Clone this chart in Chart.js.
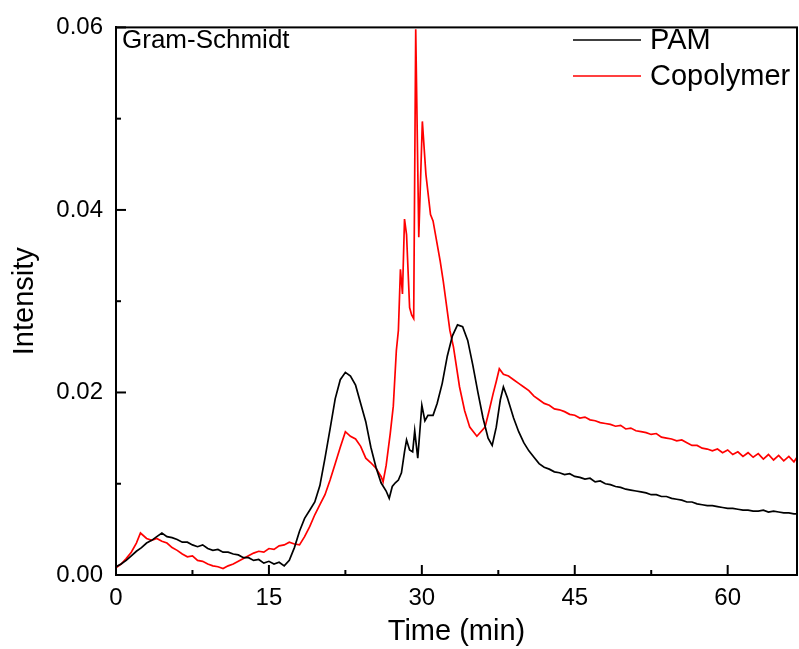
<!DOCTYPE html>
<html lang="en">
<head>
<meta charset="UTF-8" />
<title>Gram-Schmidt</title>
<script src="https://cdn.jsdelivr.net/npm/chart.js"></script>
<style>
  html, body { margin: 0; padding: 0; background: #fff; }
  #wrap { width: 799px; height: 649px; }
</style>
</head>
<body>
<div id="wrap"><canvas id="myChart" width="799" height="649"></canvas></div>
<script>
const pamTime = [
  0, 0.5, 1, 1.5, 2, 2.5, 3, 3.5, 4, 4.5, 5, 5.5, 6, 6.5, 7, 7.5, 8, 8.5, 9, 9.5,
  10, 10.5, 11, 11.5, 12, 12.5, 13, 13.5, 14, 14.5, 15, 15.5, 16, 16.5, 17, 17.5, 18, 18.5, 19, 19.5,
  20, 20.5, 21, 21.5, 22, 22.5, 23, 23.5, 24, 24.5, 25, 25.5, 26, 26.5, 26.8, 27.1, 27.4, 27.7,
  28, 28.3, 28.5, 28.8, 29.1, 29.3, 29.6, 30, 30.3, 30.6, 31.1, 31.5, 32, 32.5, 33, 33.5, 34, 34.5,
  35, 35.5, 36, 36.5, 36.9, 37.3, 37.7, 38, 38.4, 39, 39.5, 40, 40.5, 41, 41.5, 42, 42.5,
  43, 43.5, 44, 44.5, 45, 45.5, 46, 46.5, 47, 47.5, 48, 48.5, 49, 49.5, 50, 50.5, 51, 51.5, 52, 52.5,
  53, 53.5, 54, 54.5, 55, 55.5, 56, 56.5, 57, 57.5, 58, 58.5, 59, 59.5, 60, 60.5, 61, 61.5, 62, 62.5,
  63, 63.5, 64, 64.5, 65, 65.5, 66, 66.5, 66.8
]
const pamIntensity = [
  0.0009, 0.0012, 0.0016, 0.0021, 0.0026, 0.0030, 0.0035, 0.0038, 0.0042, 0.0046, 0.0042, 0.0041, 0.0039, 0.0036, 0.0036, 0.0033, 0.0031, 0.0033, 0.0029, 0.0027,
  0.0028, 0.0025, 0.0025, 0.0023, 0.0022, 0.0019, 0.0019, 0.0016, 0.0017, 0.0013, 0.0015, 0.0012, 0.0014, 0.0010, 0.0016, 0.0030, 0.0048, 0.0062, 0.0071, 0.0080,
  0.0098, 0.0128, 0.0160, 0.0193, 0.0214, 0.0222, 0.0218, 0.0208, 0.0188, 0.0168, 0.0140, 0.0118, 0.0101, 0.0092, 0.0084, 0.0097, 0.0101, 0.0104,
  0.0112, 0.0135, 0.0148, 0.0137, 0.0135, 0.0158, 0.0128, 0.0186, 0.0169, 0.0175, 0.0175, 0.0188, 0.0210, 0.0240, 0.0262, 0.0274, 0.0272, 0.0257,
  0.0230, 0.0200, 0.0172, 0.0150, 0.0142, 0.0162, 0.0192, 0.0206, 0.0194, 0.0172, 0.0157, 0.0145, 0.0136, 0.0129, 0.0122, 0.0118, 0.0116,
  0.0113, 0.0112, 0.0110, 0.0111, 0.0108, 0.0107, 0.0105, 0.0106, 0.0102, 0.0103, 0.0100, 0.0099, 0.0097, 0.0096, 0.0094, 0.0093, 0.0092, 0.0091, 0.0090, 0.0088,
  0.0088, 0.0086, 0.0086, 0.0084, 0.0083, 0.0082, 0.0080, 0.0080, 0.0078, 0.0077, 0.0076, 0.0076, 0.0075, 0.0074, 0.0073, 0.0073, 0.0072, 0.0071, 0.0071, 0.0070,
  0.0070, 0.0071, 0.0069, 0.0070, 0.0069, 0.0068, 0.0068, 0.0067, 0.0067
]

const copTime = [
  0, 0.5, 1, 1.5, 2, 2.4, 3, 3.5, 4, 4.5, 5, 5.5, 6, 6.5, 7, 7.5, 8, 8.5, 9, 9.5,
  10, 10.5, 11, 11.5, 12, 12.5, 13, 13.5, 14, 14.5, 15, 15.5, 16, 16.5, 17, 17.5, 18, 18.5, 19, 19.5,
  20, 20.5, 21, 21.5, 22, 22.5, 23, 23.5, 24, 24.5, 25, 25.5, 26, 26.2, 26.5, 26.9, 27.2, 27.5, 27.7, 27.9,
  28.1, 28.3, 28.5, 28.8, 29, 29.2, 29.4, 29.7, 30.05, 30.4, 30.85, 31.1, 31.8, 32.1, 32.75, 33.1, 33.7, 34.2, 34.7, 35.4,
  36.2, 36.6, 37, 37.3, 37.6, 38, 38.5, 39, 39.5, 40, 40.5, 41, 41.5, 42, 42.5,
  43, 43.5, 44, 44.5, 45, 45.5, 46, 46.5, 47, 47.5, 48, 48.5, 49, 49.5, 50, 50.5, 51, 51.5, 52, 52.5,
  53, 53.5, 54, 54.5, 55, 55.5, 56, 56.5, 57, 57.5, 58, 58.5, 59, 59.5, 60, 60.5, 61, 61.5, 62, 62.5,
  63, 63.5, 64, 64.5, 65, 65.5, 66, 66.5, 66.8
]
const copIntensity = [
  0.0008, 0.0012, 0.0018, 0.0025, 0.0035, 0.0046, 0.0040, 0.0038, 0.0040, 0.0037, 0.0035, 0.0030, 0.0027, 0.0023, 0.0020, 0.0021, 0.0016, 0.0015, 0.0012, 0.0010,
  0.0009, 0.0007, 0.0010, 0.0012, 0.0015, 0.0018, 0.0021, 0.0024, 0.0026, 0.0025, 0.0029, 0.0028, 0.0032, 0.0033, 0.0036, 0.0034, 0.0033, 0.0042, 0.0053, 0.0066,
  0.0077, 0.0088, 0.0104, 0.0122, 0.0140, 0.0157, 0.0152, 0.0149, 0.0141, 0.0128, 0.0123, 0.0117, 0.0108, 0.0102, 0.0120, 0.0155, 0.0185, 0.0246, 0.0268, 0.0335,
  0.0308, 0.0390, 0.0373, 0.0293, 0.0285, 0.0281, 0.0598, 0.0370, 0.0497, 0.0439, 0.0395, 0.0388, 0.0344, 0.0322, 0.0268, 0.0250, 0.0206, 0.0180, 0.0162, 0.0152,
  0.0162, 0.0180, 0.0199, 0.0212, 0.0226, 0.0220, 0.0218, 0.0214, 0.0210, 0.0206, 0.0202, 0.0196, 0.0192, 0.0188, 0.0186,
  0.0182, 0.0181, 0.0179, 0.0176, 0.0175, 0.0172, 0.0173, 0.0170, 0.0169, 0.0167, 0.0166, 0.0165, 0.0163, 0.0164, 0.0160, 0.0161, 0.0158, 0.0157, 0.0156, 0.0154,
  0.0155, 0.0151, 0.0150, 0.0149, 0.0147, 0.0148, 0.0145, 0.0142, 0.0142, 0.0139, 0.0138, 0.0136, 0.0138, 0.0134, 0.0137, 0.0132, 0.0135, 0.0130, 0.0134, 0.0129,
  0.0133, 0.0127, 0.0132, 0.0126, 0.0131, 0.0125, 0.0130, 0.0124, 0.0129
]

const xTitle = 'Time (min)'
const yTitle = 'Intensity'
const cornerLabel = 'Gram-Schmidt'

const font = '"Liberation Sans", Arial, sans-serif'

const toPoints = (xs, ys) => xs.map((t, i) => ({ x: t, y: ys[i] }))

// box frame + inward ticks (major and minor)
const frame = {
  id: 'frame',
  afterDraw(chart) {
    const { ctx, chartArea, scales } = chart
    const { left, right, top, bottom } = chartArea
    ctx.save()
    ctx.strokeStyle = '#000'
    ctx.lineWidth = 2
    ctx.strokeRect(left, top, right - left, bottom - top)

    const line = (x1, y1, x2, y2) => {
      ctx.beginPath()
      ctx.moveTo(x1, y1)
      ctx.lineTo(x2, y2)
      ctx.stroke()
    }

    const xt = scales.x.ticks
    xt.forEach((t, i) => {
      const px = scales.x.getPixelForValue(t.value)
      line(px, bottom, px, bottom - 10)
      if (i < xt.length - 1) {
        const mx = scales.x.getPixelForValue((t.value + xt[i + 1].value) / 2)
        line(mx, bottom, mx, bottom - 5)
      }
    })
    const yt = scales.y.ticks
    yt.forEach((t, i) => {
      const py = scales.y.getPixelForValue(t.value)
      line(left, py, left + 10, py)
      if (i < yt.length - 1) {
        const my = scales.y.getPixelForValue((t.value + yt[i + 1].value) / 2)
        line(left, my, left + 5, my)
      }
    })

    // corner label
    ctx.fillStyle = '#000'
    ctx.font = '26px ' + font
    ctx.textAlign = 'left'
    ctx.textBaseline = 'alphabetic'
    ctx.fillText(cornerLabel, left + 6, top + 21)

    // legend
    ctx.font = '29px ' + font
    ctx.textBaseline = 'middle'
    ctx.lineWidth = 1.5
    chart.data.datasets.forEach((ds, i) => {
      const ly = 40 + i * 36
      ctx.strokeStyle = ds.borderColor
      line(573, ly, 641, ly)
      ctx.fillText(ds.label, 650, ly + 1)
    })
    ctx.restore()
  },
}

const config = {
  type: 'line',
  data: {
    datasets: [
      {
        label: 'PAM',
        data: toPoints(pamTime, pamIntensity),
        borderColor: '#000000',
        borderWidth: 1.7,
        pointRadius: 0,
        tension: 0,
      },
      {
        label: 'Copolymer',
        data: toPoints(copTime, copIntensity),
        borderColor: '#ff0000',
        borderWidth: 1.7,
        pointRadius: 0,
        tension: 0,
      },
    ],
  },
  options: {
    responsive: false,
    animation: false,
    layout: { padding: { top: 24, right: 2, left: 0, bottom: 0 } },
    plugins: {
      legend: { display: false },
      tooltip: { enabled: false },
    },
    scales: {
      x: {
        type: 'linear',
        min: 0,
        max: 66.8,
        grid: { display: false, drawTicks: false },
        border: { display: true, color: '#000', width: 2 },
        ticks: {
          stepSize: 15,
          includeBounds: false,
          color: '#000',
          padding: 9,
          font: { family: font, size: 24 },
          callback: (v) => String(v),
        },
        title: {
          display: true,
          text: xTitle,
          color: '#000',
          font: { family: font, size: 29 },
          padding: { top: 0, bottom: 0 },
        },
        afterFit(scale) { scale.height = 74 },
      },
      y: {
        min: 0,
        max: 0.06,
        grid: { display: false, drawTicks: false },
        border: { display: true, color: '#000', width: 2 },
        ticks: {
          stepSize: 0.02,
          color: '#000',
          padding: 13,
          font: { family: font, size: 24 },
          callback: (v) => v.toFixed(2),
        },
        title: {
          display: true,
          text: yTitle,
          color: '#000',
          font: { family: font, size: 29 },
          padding: { top: 8, bottom: 0 },
        },
        afterFit(scale) { scale.width = 116 },
      },
    },
  },
  plugins: [frame],
}

const myChart = new Chart(document.getElementById('myChart'), config)
</script>
</body>
</html>
